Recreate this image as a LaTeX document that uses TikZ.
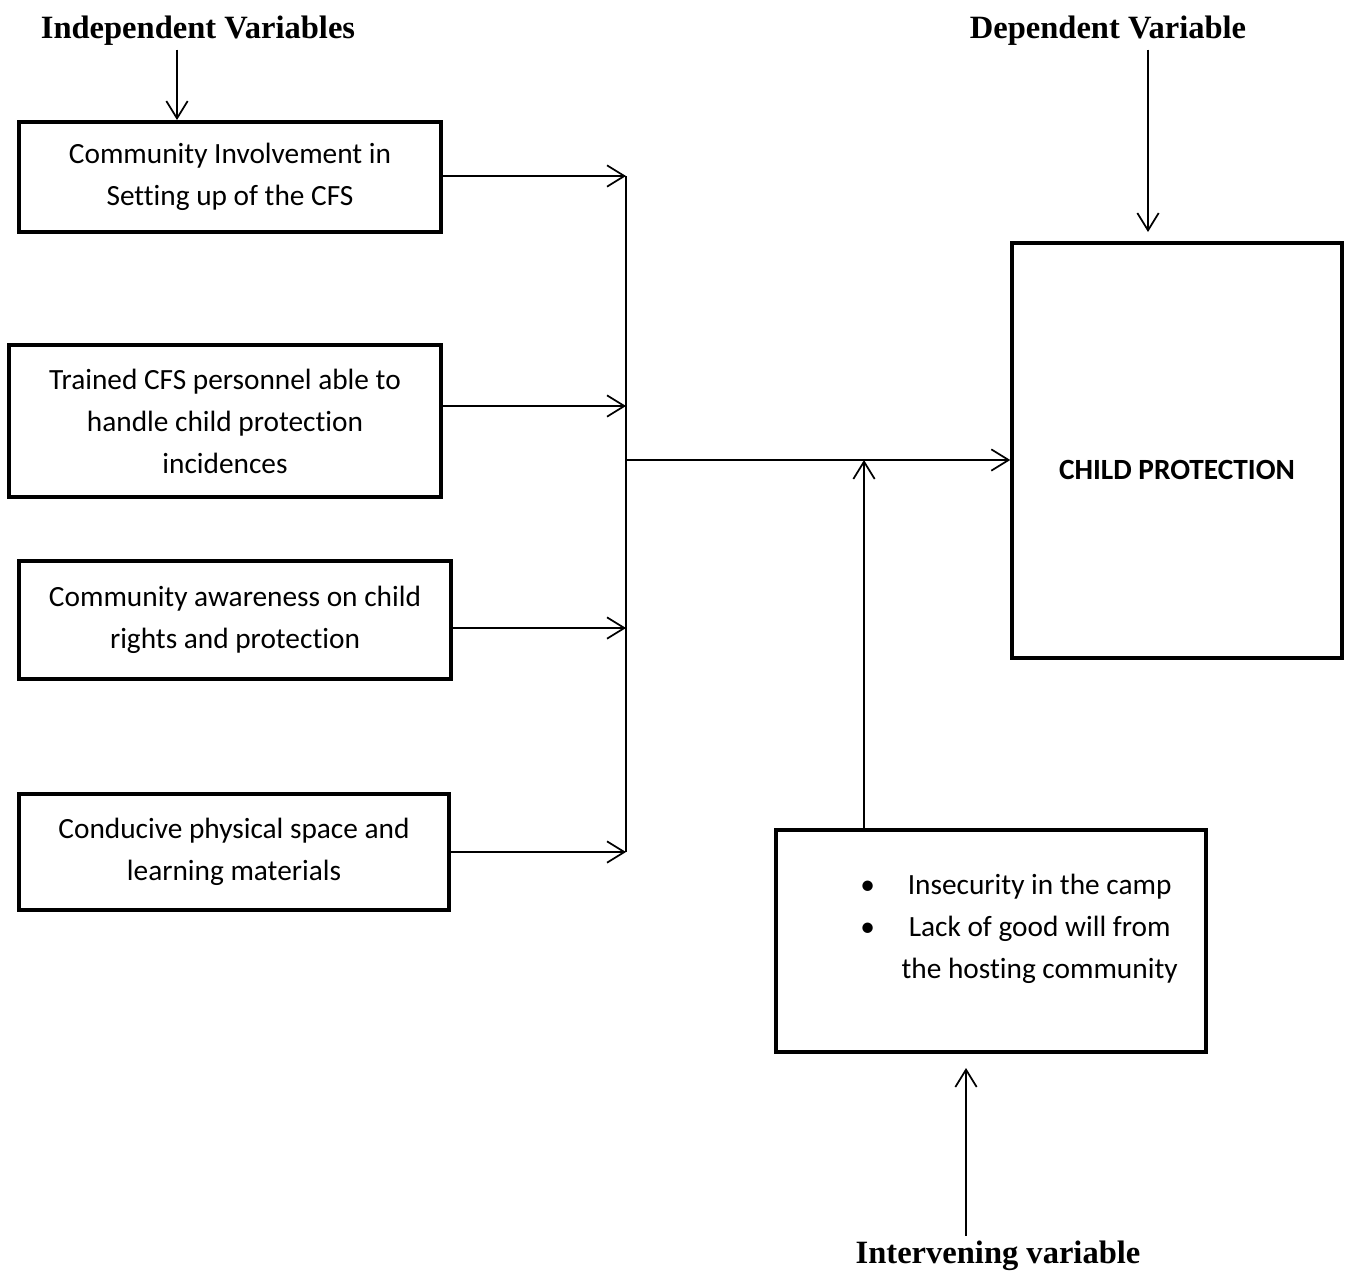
\documentclass[tikz,border=0pt]{standalone}
\usepackage{fontspec}
\setmainfont{Carlito}[Ligatures=NoCommon]
\newfontfamily\headfont{Liberation Serif}
\usetikzlibrary{arrows.meta}

\tikzset{
  varbox/.style={draw, line width=2.6pt, align=center, inner sep=0pt,
    font=\fontsize{22}{31.5}\selectfont},
  conn/.style={line width=1.3pt},
  arr/.style={conn, -{Straight Barb[length=13pt,width=16pt]}},
  head/.style={font=\headfont\bfseries\fontsize{24.4}{30}\selectfont, anchor=base},
}

\begin{document}
\begin{tikzpicture}[x=0.75pt,y=-0.75pt]
  \useasboundingbox (0,0) rectangle (1351,1275);

  % headings
  \node[head] (ih) at (198,38) {Independent Variables};
  \node[head] (dh) at (1108,38) {Dependent Variable};
  \node[head] (vh) at (998,1263) {Intervening variable};

  % independent variables
  \node[varbox, minimum width=316.5pt, minimum height=82.5pt] (b1) at (230,177)
    {Community Involvement in\\Setting up of the CFS};
  \node[varbox, minimum width=324pt, minimum height=114pt] (b2) at (225,421)
    {Trained CFS personnel able to\\handle child protection\\incidences};
  \node[varbox, minimum width=324pt, minimum height=88.5pt] (b3) at (235,620)
    {Community awareness on child\\rights and protection};
  \node[varbox, minimum width=322.5pt, minimum height=87pt] (b4) at (234,852)
    {Conducive physical space and\\learning materials};

  % dependent variable
  \node[varbox, minimum width=247.5pt, minimum height=311.25pt] (cp) at (1177,450.5) {};
  \node[font=\fontsize{22}{31.5}\selectfont\bfseries] (cpt) at (1177,470) {CHILD PROTECTION};

  % intervening variable
  \node[varbox, minimum width=322.5pt, minimum height=166.5pt] (iv) at (991,941) {};
  \node[font=\fontsize{22}{31.5}\selectfont] (ivt) at (1019,928)
    {\begin{tabular}{@{}c@{\hspace{20pt}}c@{}}
      \textbullet & Insecurity in the camp\\
      \textbullet & Lack of good will from\\
                  & the hosting community
    \end{tabular}};

  % junctions
  \coordinate (j1) at (626,176);
  \coordinate (j2) at (626,406);
  \coordinate (j3) at (626,628);
  \coordinate (j4) at (626,852);
  \coordinate (jm) at (626,460);
  \coordinate (mid) at (864,460);
  \coordinate (a1) at (177,120);
  \coordinate (a2) at (1148,232);
  \coordinate (a3) at (966,1068);

  \draw[arr] (ih.south -| a1) -- (a1);
  \draw[arr] (dh.south -| a2) -- (a2);
  \draw[arr] (vh.north -| a3) -- (a3);

  \draw[arr] (b1.east |- j1) -- (j1);
  \draw[arr] (b2.east |- j2) -- (j2);
  \draw[arr] (b3.east |- j3) -- (j3);
  \draw[arr] (b4.east |- j4) -- (j4);
  \draw[conn] (j1) -- (j4);
  \draw[arr] (jm) -- (jm -| cp.west);
  \draw[arr] (iv.north -| mid) -- (mid);
\end{tikzpicture}
\end{document}
